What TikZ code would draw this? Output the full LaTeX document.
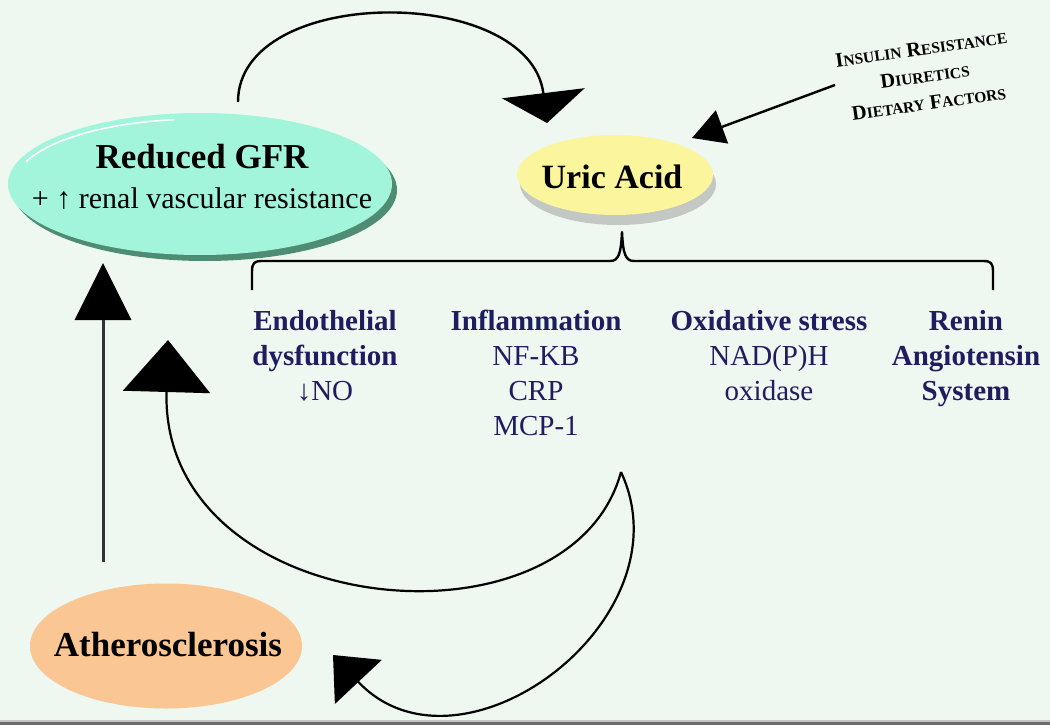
\documentclass[tikz,border=0pt]{standalone}
\usepackage{fontspec}
\setmainfont{Liberation Serif}
\usetikzlibrary{arrows.meta,shapes.geometric}
\definecolor{bg}{HTML}{EEF8F1}
\definecolor{gfrfill}{HTML}{A2F5DA}
\definecolor{gfredge}{HTML}{4E8C74}
\definecolor{uricfill}{HTML}{FBF59E}
\definecolor{uricsh}{HTML}{C3C8C4}
\definecolor{athfill}{HTML}{F9C694}
\definecolor{athedge}{HTML}{C98450}
\definecolor{navy}{HTML}{1E1E5F}
\pgfdeclareradialshading{athshade}{\pgfpoint{0bp}{0bp}}{color(0bp)=(athfill);color(40bp)=(athfill);color(50bp)=(athedge)}
\newcommand\bigL[1]{{\fontsize{20.5}{20}\selectfont #1}}
\newcommand\smL[1]{{\fontsize{15.5}{15.5}\selectfont #1}}
\begin{document}
\begin{tikzpicture}[x=1pt,y=-1pt,
  bigtxt/.style={font=\fontsize{34}{40}\selectfont\bfseries, inner sep=0pt},
  coltxt/.style={align=center, text=navy, font=\fontsize{29}{35}\selectfont, inner sep=0pt, anchor=base},
  conn/.style={line width=2.4pt, black},
  topArrow/.style={-{Triangle[length=30pt,width=83pt]}},
  insArrow/.style={-{Triangle[length=32pt,width=35pt]}},
  vertArrow/.style={-{Triangle[length=57pt,width=56pt,color=black]}},
  leftArrow/.style={-{Triangle[length=52pt,width=87pt]}},
  athArrow/.style={-{Triangle[length=37pt,width=64pt]}}]
\useasboundingbox (0,0) rectangle (1050,725);
\fill[bg] (0,0) rectangle (1050,725);
\fill[gray!45] (0,720) rectangle (1050,722);
\fill[gray!85!black] (0,722) rectangle (1050,725);

% Reduced GFR ellipse
\fill[gfredge] (205,190) ellipse [x radius=192, y radius=71];
\fill[gfrfill] (200,184) ellipse [x radius=192, y radius=71];
\draw[white, line width=1.6pt] (200,184) ++(200:185 and 65) arc [start angle=200, end angle=262, x radius=185, y radius=65];
\node[bigtxt, align=center, anchor=base] (gfr) at (202,208)
  {\fontsize{35}{35}\selectfont Reduced GFR\\\fontsize{30}{35}\selectfont\mdseries + ↑ renal vascular resistance};

% Uric Acid ellipse
\fill[uricsh] (618,184) ellipse [x radius=98, y radius=41];
\fill[uricfill] (615,175) ellipse [x radius=98, y radius=40];
\node[bigtxt, anchor=base] (uric) at (612,188) {Uric Acid};

% Atherosclerosis ellipse
\shade[shading=athshade] (166,646) ellipse [x radius=136, y radius=62.5];
\node[bigtxt, anchor=base, font=\fontsize{35}{40}\selectfont\bfseries] (ath) at (168,656) {Atherosclerosis};

% factors
\node[align=center, rotate=8, font=\fontsize{20}{27.5}\selectfont\bfseries, inner sep=0pt] (factors) at (925,76)
  {\bigL{I}\smL{NSULIN} \bigL{R}\smL{ESISTANCE}\\
   \bigL{D}\smL{IURETICS}\\
   \bigL{D}\smL{IETARY} \bigL{F}\smL{ACTORS}};

% columns
\node[coltxt] (endo) at (325,400) {\textbf{Endothelial}\\\textbf{dysfunction}\\↓NO};
\node[coltxt] (infl) at (536,435) {\textbf{Inflammation}\\NF-KB\\CRP\\MCP-1};
\node[coltxt] (oxid) at (769,400) {\textbf{Oxidative stress}\\NAD(P)H\\oxidase};
\node[coltxt] (ras) at (966,400) {\textbf{Renin}\\\textbf{Angiotensin}\\\textbf{System}};

% bracket
\coordinate (brl) at (252,290);
\coordinate (brtop) at (622,232);
\coordinate (brr) at (993,290);
\draw[line width=2.4pt, line join=round] (brl) -- (252,272) .. controls (252,263) and (254,261) .. (262,261)
  -- (610,261) .. controls (618,261) and (621,255) .. (brtop)
  .. controls (623,255) and (626,261) .. (634,261) -- (983,261)
  .. controls (991,261) and (993,263) .. (993,272) -- (brr);

% connectors
\coordinate (a1s) at (238,102);
\coordinate (a1e) at (547,123);
\coordinate (a2s) at (835,85);
\coordinate (a2e) at (692,138);
\coordinate (vs) at (103,562);
\coordinate (ve) at (103,263);
\coordinate (cusp) at (621,472);
\coordinate (le) at (168,340);
\coordinate (ae) at (333,655);

\draw[conn, topArrow] (a1s) .. controls (238,-16) and (530,-16) .. (a1e);
\draw[conn, insArrow] (a2s) -- (a2e);
\draw[line width=3pt, black!80, vertArrow] (vs) -- (ve);
\draw[line width=2.2pt, leftArrow] (cusp) .. controls (570,660) and (160,620) .. (le);
\draw[line width=2.2pt, athArrow] (cusp) .. controls (690,620) and (460,790) .. (ae);
\end{tikzpicture}
\end{document}
